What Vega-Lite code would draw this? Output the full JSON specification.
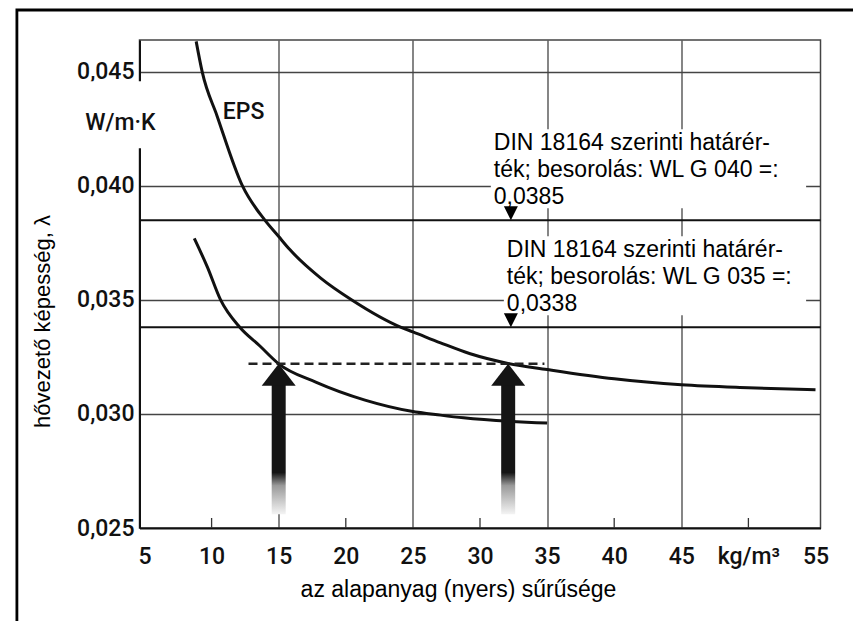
{
  "$schema": "https://vega.github.io/schema/vega-lite/v6.json",
  "width": 681,
  "height": 488,
  "autosize": {"type": "none"},
  "padding": {"left": 139.5, "top": 40, "right": 32.5, "bottom": 93},
  "background": "white",
  "config": {
    "view": {"stroke": "#444", "strokeWidth": 1.5},
    "font": "Liberation Sans"
  },
  "datasets": {
    "curves": [
      {"curve": "EPS", "density": 8.85, "lambda": 0.04634},
      {"curve": "EPS", "density": 9.3, "lambda": 0.045},
      {"curve": "EPS", "density": 10.42, "lambda": 0.04305},
      {"curve": "EPS", "density": 12.3, "lambda": 0.04},
      {"curve": "EPS", "density": 13.97, "lambda": 0.0385},
      {"curve": "EPS", "density": 15, "lambda": 0.03778},
      {"curve": "EPS", "density": 15.81, "lambda": 0.03722},
      {"curve": "EPS", "density": 18.13, "lambda": 0.03596},
      {"curve": "EPS", "density": 20.45, "lambda": 0.035},
      {"curve": "EPS", "density": 24.12, "lambda": 0.0338},
      {"curve": "EPS", "density": 25, "lambda": 0.0336},
      {"curve": "EPS", "density": 27.06, "lambda": 0.03312},
      {"curve": "EPS", "density": 29.27, "lambda": 0.03264},
      {"curve": "EPS", "density": 32.08, "lambda": 0.03222},
      {"curve": "EPS", "density": 35, "lambda": 0.03195},
      {"curve": "EPS", "density": 40, "lambda": 0.03154},
      {"curve": "EPS", "density": 45, "lambda": 0.03128},
      {"curve": "EPS", "density": 50, "lambda": 0.03115},
      {"curve": "EPS", "density": 55, "lambda": 0.03106},
      {"curve": "EPS 2", "density": 8.71, "lambda": 0.0377},
      {"curve": "EPS 2", "density": 9.68, "lambda": 0.03645},
      {"curve": "EPS 2", "density": 10.67, "lambda": 0.035},
      {"curve": "EPS 2", "density": 12.1, "lambda": 0.0338},
      {"curve": "EPS 2", "density": 13.6, "lambda": 0.03298},
      {"curve": "EPS 2", "density": 15, "lambda": 0.0322},
      {"curve": "EPS 2", "density": 17.76, "lambda": 0.0314},
      {"curve": "EPS 2", "density": 21.43, "lambda": 0.03061},
      {"curve": "EPS 2", "density": 24.9, "lambda": 0.03012},
      {"curve": "EPS 2", "density": 27.06, "lambda": 0.02995},
      {"curve": "EPS 2", "density": 28.77, "lambda": 0.02983},
      {"curve": "EPS 2", "density": 35, "lambda": 0.0296}
    ],
    "limits": [
      {"code": "WL G 040", "lambda": 0.0385, "density": 31.03, "label": ["DIN 18164 szerinti határér-", "ték; besorolás: WL G 040 =:", "0,0385"]},
      {"code": "WL G 035", "lambda": 0.0338, "density": 32.0, "label": ["DIN 18164 szerinti határér-", "ték; besorolás: WL G 035 =:", "0,0338"]}
    ],
    "reading": [{"lambda": 0.0322, "from": 12.75, "to": 34.8}],
    "arrows": [
      {"density": 15, "lambda": 0.0322},
      {"density": 32.1, "lambda": 0.0322}
    ],
    "labels": [
      {"text": "W/m·K", "density": 3.2, "lambda": 0.04275},
      {"text": "EPS", "density": 12.38, "lambda": 0.04324}
    ],
    "ticks": [{"density": 10}, {"density": 20}, {"density": 30}, {"density": 40}, {"density": 50}]
  },
  "layer": [
    {
      "data": {"name": "curves"},
      "mark": {"type": "line", "interpolate": "monotone", "strokeWidth": 3, "color": "#111"},
      "encoding": {
        "x": {
          "field": "density", "type": "quantitative",
          "scale": {"domain": [5, 55], "nice": false, "zero": false},
          "axis": {
            "values": [5, 10, 15, 20, 25, 30, 35, 40, 45, 50, 55],
            "labelExpr": "datum.value == 50 ? 'kg/m³' : datum.label",
            "labelFont": "Roboto", "labelFontWeight": 500, "labelFontSize": 23, "labelColor": "#111",
            "labelBaseline": "alphabetic", "labelPadding": 35,
            "labelFlush": false, "labelOverlap": false,
            "ticks": false, "tickSize": 0,
            "domain": true, "domainColor": "#111", "domainWidth": 2,
            "grid": true, "gridColor": "#444", "gridWidth": 1.3,
            "gridOpacity": {"condition": {"test": "datum.value == 15 || datum.value == 25 || datum.value == 35 || datum.value == 45", "value": 1}, "value": 0},
            "title": "az alapanyag (nyers) sűrűsége",
            "titleFont": "Liberation Sans", "titleFontSize": 23, "titleFontWeight": "normal", "titleColor": "#000",
            "titleX": 318.5, "titleY": 68, "titleBaseline": "alphabetic", "titleAlign": "center"
          }
        },
        "y": {
          "field": "lambda", "type": "quantitative",
          "scale": {"domain": [0.025, 0.0464], "nice": false, "zero": false},
          "axis": {
            "values": [0.025, 0.03, 0.035, 0.04, 0.045],
            "labelExpr": "replace(format(datum.value, '.3f'), '.', ',')",
            "labelFont": "Roboto", "labelFontWeight": 500, "labelFontSize": 23, "labelColor": "#111",
            "labelPadding": 5.5, "labelFlush": false, "labelOverlap": false,
            "ticks": false, "tickSize": 0,
            "domain": true, "domainColor": "#111", "domainWidth": 2,
            "grid": true, "gridColor": "#444", "gridWidth": 1.3,
            "gridOpacity": {"condition": {"test": "datum.value > 0.026", "value": 1}, "value": 0},
            "title": "hővezető képesség, λ",
            "titleFont": "Liberation Sans", "titleFontSize": 22, "titleFontWeight": "normal", "titleColor": "#000",
            "titleAngle": 270, "titleX": -90.5, "titleY": 281, "titleBaseline": "alphabetic", "titleAlign": "center"
          }
        },
        "detail": {"field": "curve", "type": "nominal"}
      }
    },
    {
      "data": {"values": [{}]},
      "mark": {"type": "rect", "filled": false, "stroke": "#000", "strokeWidth": 2.8, "clip": false},
      "encoding": {
        "x": {"datum": -4.508, "type": "quantitative"},
        "x2": {"datum": 58.5},
        "y": {"datum": 0.047715, "type": "quantitative"},
        "y2": {"datum": 0.019}
      }
    },
    {
      "data": {"name": "limits"},
      "mark": {"type": "rule", "strokeWidth": 2, "color": "#111"},
      "encoding": {
        "y": {"field": "lambda", "type": "quantitative"}
      }
    },
    {
      "data": {"name": "reading"},
      "mark": {"type": "rule", "strokeDash": [9, 5], "strokeWidth": 2.5, "color": "#222"},
      "encoding": {
        "x": {"field": "from", "type": "quantitative"},
        "x2": {"field": "to"},
        "y": {"field": "lambda", "type": "quantitative"}
      }
    },
    {
      "data": {"name": "limits"},
      "mark": {"type": "rect", "fill": "white", "xOffset": -3, "yOffset": -91, "y2Offset": -12},
      "encoding": {
        "x": {"field": "density", "type": "quantitative"},
        "x2": {"datum": 54.3},
        "y": {"field": "lambda", "type": "quantitative"},
        "y2": {"field": "lambda"}
      }
    },
    {
      "data": {"name": "limits"},
      "mark": {"type": "text", "align": "left", "baseline": "alphabetic", "dy": -70, "lineHeight": 27, "fontSize": 23, "font": "Liberation Sans", "color": "#000"},
      "encoding": {
        "x": {"field": "density", "type": "quantitative"},
        "y": {"field": "lambda", "type": "quantitative"},
        "text": {"field": "label", "type": "nominal"}
      }
    },
    {
      "data": {"name": "limits"},
      "mark": {"type": "point", "shape": "M-1,-1L1,-1L0,1Z", "size": 196, "filled": true, "color": "#000", "opacity": 1, "yOffset": -7},
      "encoding": {
        "x": {"datum": 32.3, "type": "quantitative"},
        "y": {"field": "lambda", "type": "quantitative"}
      }
    },
    {
      "data": {"name": "arrows"},
      "mark": {
        "type": "bar", "width": 14, "orient": "vertical", "yOffset": 20,
        "color": {"gradient": "linear", "x1": 0, "y1": 0, "x2": 0, "y2": 1, "stops": [
          {"offset": 0, "color": "#151515"},
          {"offset": 0.68, "color": "#151515"},
          {"offset": 0.78, "color": "#9a9a9a"},
          {"offset": 1, "color": "#f4f4f4"}
        ]}
      },
      "encoding": {
        "x": {"field": "density", "type": "quantitative"},
        "y": {"field": "lambda", "type": "quantitative", "stack": null},
        "y2": {"datum": 0.0256}
      }
    },
    {
      "data": {"name": "arrows"},
      "mark": {"type": "point", "shape": "M0,-0.65L1,0.65L-1,0.65Z", "size": 1156, "filled": true, "color": "#151515", "opacity": 1, "yOffset": 11},
      "encoding": {
        "x": {"field": "density", "type": "quantitative"},
        "y": {"field": "lambda", "type": "quantitative"}
      }
    },
    {
      "data": {"name": "ticks"},
      "mark": {"type": "rule", "strokeWidth": 1.3, "color": "#333", "y2Offset": -10},
      "encoding": {
        "x": {"field": "density", "type": "quantitative"},
        "y": {"datum": 0.025, "type": "quantitative"},
        "y2": {"datum": 0.025}
      }
    },
    {
      "data": {"name": "labels"},
      "transform": [{"filter": "datum.text == 'W/m·K'"}],
      "mark": {"type": "rect", "fill": "white", "xOffset": -34, "x2Offset": 36, "yOffset": -42, "y2Offset": 25},
      "encoding": {
        "x": {"field": "density", "type": "quantitative"},
        "x2": {"field": "density"},
        "y": {"field": "lambda", "type": "quantitative"},
        "y2": {"field": "lambda"}
      }
    },
    {
      "data": {"name": "labels"},
      "mark": {"type": "text", "font": "Roboto", "fontWeight": 500, "fontSize": 23, "align": "center", "baseline": "middle", "color": "#111"},
      "encoding": {
        "x": {"field": "density", "type": "quantitative"},
        "y": {"field": "lambda", "type": "quantitative"},
        "text": {"field": "text", "type": "nominal"}
      }
    }
  ]
}
